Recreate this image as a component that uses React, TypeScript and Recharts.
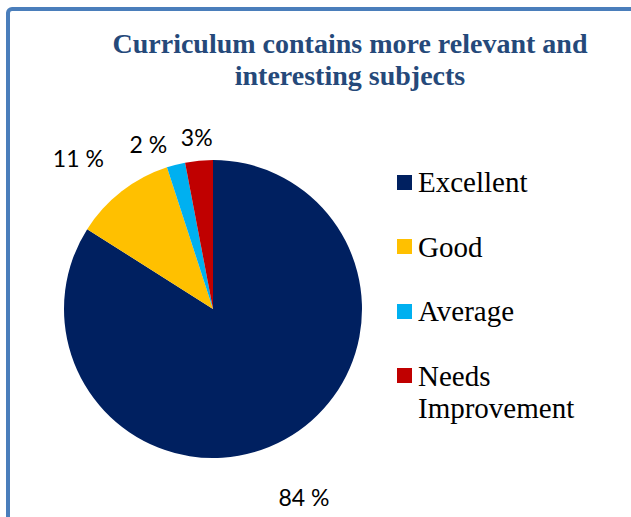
import React from 'react';
import { PieChart, Pie, Cell, Legend } from 'recharts';

const CATEGORIES = ['Excellent', 'Good', 'Average', 'Needs Improvement'];
const VALUES = [84, 11, 2, 3];
const LABELS = ['84 %', '11 %', '2 %', '3%'];
const COLORS = ['#002060', '#FFC000', '#00B0F0', '#C00000'];
const TITLE_LINES = ['Curriculum contains more relevant and', 'interesting subjects'];

// label placement style: extra radial distance and angular nudge (deg)
const LABEL_DIST = [60, 53, 28, 24];
const LABEL_NUDGE = [-3, 4, 7, 0];

const data = CATEGORIES.map((name, i) => ({ name, value: VALUES[i], label: LABELS[i] }));

const RAD = Math.PI / 180;

const renderLabel = (props: any) => {
  const { cx, cy, midAngle, outerRadius, index } = props;
  const r = outerRadius + LABEL_DIST[index];
  const a = midAngle + LABEL_NUDGE[index];
  const x = cx + r * Math.cos(-a * RAD);
  const y = cy + r * Math.sin(-a * RAD);
  return (
    <text
      x={x}
      y={y}
      textAnchor="middle"
      dominantBaseline="central"
      fontFamily="Lato, 'Noto Sans', sans-serif"
      fontSize={23}
      fill="#000"
    >
      {LABELS[index]}
    </text>
  );
};

const renderLegend = () => (
  <div style={{ fontFamily: "'Liberation Serif', 'DejaVu Serif', serif", fontSize: 29, color: '#000' }}>
    {CATEGORIES.map((name, i) => (
      <div
        key={name}
        style={{ position: 'absolute', left: 0, top: i * 64.5, display: 'flex', alignItems: 'flex-start' }}
      >
        <div style={{ width: 15, height: 15, background: COLORS[i], marginTop: 8.5, marginRight: 6, flexShrink: 0 }} />
        <div style={{ lineHeight: '32px', width: 200 }}>
          {name.split(' ').map((w, k) => (
            <div key={k}>{w}</div>
          ))}
        </div>
      </div>
    ))}
  </div>
);

export default function App() {
  return (
    <div style={{ position: 'absolute', left: 0, top: 0, width: 631, height: 517, overflow: 'hidden', background: '#fff' }}>
      <div
        style={{
          position: 'absolute',
          left: 6,
          top: 7,
          width: 700,
          height: 600,
          border: '4px solid #4a7ebb',
          borderRadius: 6,
          boxSizing: 'border-box',
        }}
      />
      <div
        style={{
          position: 'absolute',
          left: 0,
          top: 28,
          width: 700,
          textAlign: 'center',
          fontFamily: "'Liberation Serif', 'DejaVu Serif', serif",
          fontWeight: 'bold',
          fontSize: 28,
          lineHeight: '32px',
          color: '#25497a',
        }}
      >
        {TITLE_LINES.map((t, i) => (
          <div key={i}>{t}</div>
        ))}
      </div>
      <div style={{ position: 'absolute', left: 0, top: 0 }}>
        <PieChart width={631} height={517} margin={{ top: 0, right: 0, bottom: 0, left: 0 }}>
          <Pie
            data={data}
            dataKey="value"
            nameKey="name"
            cx={213}
            cy={309}
            outerRadius={149}
            startAngle={90}
            endAngle={-270}
            stroke="none"
            label={renderLabel}
            labelLine={false}
            isAnimationActive={false}
          >
            {data.map((d, i) => (
              <Cell key={d.name} fill={COLORS[i]} />
            ))}
          </Pie>
          <Legend
            content={renderLegend}
            wrapperStyle={{ position: 'absolute', left: 397, top: 166, width: 230, height: 300 }}
          />
        </PieChart>
      </div>
    </div>
  );
}
